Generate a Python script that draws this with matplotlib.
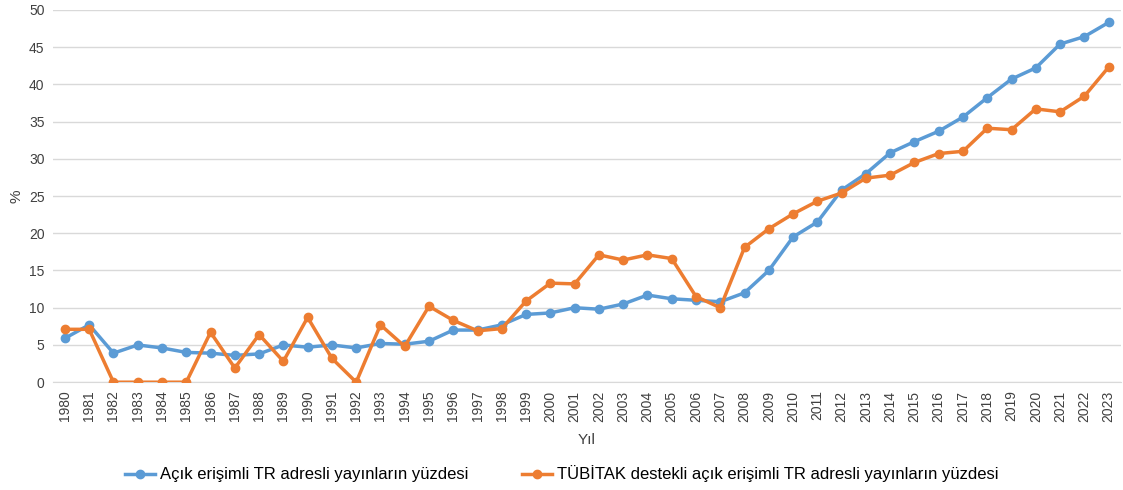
import numpy as np
from matplotlib import pyplot as plt

years = list(range(1980, 2024))

open_access_tr = [5.9, 7.7, 3.9, 5.0, 4.6, 4.0, 3.9, 3.6, 3.8, 5.0,
                  4.7, 5.0, 4.6, 5.2, 5.1, 5.5, 7.0, 7.0, 7.7, 9.1,
                  9.3, 10.0, 9.8, 10.5, 11.7, 11.2, 11.0, 10.8, 12.0, 15.0,
                  19.5, 21.5, 25.8, 28.0, 30.8, 32.3, 33.7, 35.6, 38.2, 40.7,
                  42.2, 45.4, 46.4, 48.3]

tubitak_open_access = [7.1, 7.1, 0.0, 0.0, 0.0, 0.0, 6.7, 1.9, 6.4, 2.8,
                       8.7, 3.2, 0.0, 7.7, 4.8, 10.2, 8.3, 6.9, 7.2, 10.9,
                       13.3, 13.2, 17.1, 16.4, 17.1, 16.6, 11.5, 10.0, 18.1, 20.6,
                       22.6, 24.3, 25.4, 27.4, 27.8, 29.5, 30.7, 31.0, 34.1, 33.9,
                       36.7, 36.3, 38.4, 42.3]

labels = ['Açık erişimli TR adresli yayınların yüzdesi',
          'TÜBİTAK destekli açık erişimli TR adresli yayınların yüzdesi']


def main():
    plt.rcParams['font.family'] = ['Liberation Sans', 'DejaVu Sans']

    fig = plt.figure(figsize=(11.23, 4.9), dpi=100)
    ax = fig.add_axes([0.047, 0.22, 0.951, 0.76])

    ax.plot(years, open_access_tr, color='#5B9BD5', lw=2.5, marker='o',
            ms=6, label=labels[0], zorder=3)
    ax.plot(years, tubitak_open_access, color='#ED7D31', lw=2.5, marker='o',
            ms=6, label=labels[1], zorder=3)

    ax.set_xlim(1979.5, 2023.5)
    ax.set_ylim(0, 50)
    ax.set_yticks(np.arange(0, 51, 5))
    ax.set_xticks(years)
    ax.set_xticklabels([str(y) for y in years], rotation=90)
    ax.tick_params(axis='both', length=0, labelsize=10, colors='#404040', pad=6)
    ax.grid(axis='y', color='#d9d9d9', lw=1)
    ax.set_axisbelow(True)
    for side in ['top', 'right', 'left']:
        ax.spines[side].set_visible(False)
    ax.spines['bottom'].set_color('#d9d9d9')

    ax.set_xlabel('Yıl', fontsize=11, color='#404040', labelpad=8)
    ax.set_ylabel('%', fontsize=11, color='#404040', labelpad=4)

    fig.legend(loc='lower center', ncol=2, frameon=False, fontsize=12,
               bbox_to_anchor=(0.5, -0.015), columnspacing=3.2,
               handlelength=1.8, handletextpad=0.3)

    fig.savefig('out.png', dpi=100)
    plt.close(fig)


if __name__ == '__main__':
    main()
